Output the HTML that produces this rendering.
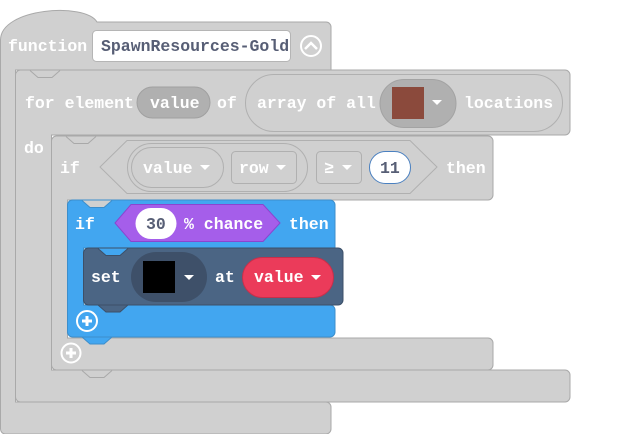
<!DOCTYPE html>
<html><head><meta charset="utf-8"><style>
html,body{margin:0;padding:0;background:#fff;}
svg{display:block}
text{font-family:"Liberation Mono",monospace;font-weight:bold;font-size:16.5px;fill:#fff}
.d{fill:#575e75}
</style></head><body>
<svg width="622" height="434" viewBox="0 0 622 434" xmlns="http://www.w3.org/2000/svg">
<!-- function block -->
<path d="M0.5,40 C0.5,8 85,2 97,22 H326 a5,5 0 0 1 5,5 V70 H15.5 V402 H326 a5,5 0 0 1 5,5 V429 a5,5 0 0 1 -5,5 H5 a5,5 0 0 1 -4.5,-5 Z" fill="#d0d0d0" stroke="#a9a9a9"/>
<text x="8" y="51">function</text>
<rect x="92.5" y="30.5" width="198" height="31" rx="4" fill="#fff" stroke="#b5b5b5"/>
<text x="101" y="51" class="d">SpawnResources-Gold</text>
<circle cx="311" cy="46" r="10" fill="none" stroke="#fff" stroke-width="2"/>
<path d="M305,49 L311,43 L317,49" fill="none" stroke="#fff" stroke-width="2.5"/>
<!-- for block -->
<path d="M15.5,75 a5,5 0 0 1 5,-5 H565 a5,5 0 0 1 5,5 V130 a5,5 0 0 1 -5,5 H51.5 V370 H565 a5,5 0 0 1 5,5 V397 a5,5 0 0 1 -5,5 H20.5 a5,5 0 0 1 -5,-5 Z" fill="#d0d0d0" stroke="#a9a9a9"/>
<path d="M30,70.5 l8,7 h14 l8,-7" fill="none" stroke="#a9a9a9"/>
<text x="25" y="108">for element</text>
<rect x="137" y="87" width="73" height="31" rx="15.5" fill="#b0b0b0" stroke="#a0a0a0"/>
<text x="150" y="108">value</text>
<text x="217" y="108">of</text>
<rect x="245.5" y="74.5" width="317" height="57" rx="28.5" fill="#d0d0d0" stroke="#b0b0b0"/>
<text x="257" y="108">array of all</text>
<rect x="380" y="79.5" width="76" height="48" rx="24" fill="#b0b0b0" stroke="#a3a3a3"/>
<rect x="392" y="87" width="32" height="32" fill="#8b4a3c"/>
<path d="M432,100 h10 l-5,5 Z" fill="#fff"/>
<text x="464" y="108">locations</text>
<text x="24" y="153">do</text>
<!-- gray if -->
<path d="M51.5,141 a5,5 0 0 1 5,-5 H488 a5,5 0 0 1 5,5 V195 a5,5 0 0 1 -5,5 H67.5 V338 H488 a5,5 0 0 1 5,5 V365 a5,5 0 0 1 -5,5 H56.5 a5,5 0 0 1 -5,-5 Z" fill="#d0d0d0" stroke="#a9a9a9"/>
<path d="M66,136.5 l8,7 h14 l8,-7" fill="none" stroke="#a9a9a9"/>
<path d="M82,370.5 l8,7 h14 l8,-7" fill="#d0d0d0" stroke="#a9a9a9"/>
<text x="60" y="173">if</text>
<path d="M100,167 L127,140.5 H410 L437,167 L410,193.5 H127 Z" fill="#d0d0d0" stroke="#b0b0b0"/>
<rect x="127.5" y="143.5" width="180" height="48" rx="24" fill="#d0d0d0" stroke="#b0b0b0"/>
<rect x="131.5" y="147.5" width="92" height="40" rx="20" fill="#d0d0d0" stroke="#b0b0b0"/>
<text x="143" y="173">value</text>
<path d="M200,165 h10 l-5,5 Z" fill="#fff"/>
<rect x="231.5" y="151.5" width="65" height="32" rx="4" fill="#d0d0d0" stroke="#b0b0b0"/>
<text x="239" y="173">row</text>
<path d="M276,165 h10 l-5,5 Z" fill="#fff"/>
<rect x="316.5" y="151.5" width="45" height="32" rx="4" fill="#d0d0d0" stroke="#b0b0b0"/>
<text x="324" y="173">≥</text>
<path d="M342,165 h10 l-5,5 Z" fill="#fff"/>
<rect x="369.5" y="151.5" width="41" height="32" rx="16" fill="#fff" stroke="#4a80c0"/>
<text x="380" y="173" class="d">11</text>
<text x="446" y="173">then</text>
<circle cx="71" cy="353" r="9.5" fill="none" stroke="#fff" stroke-width="2"/>
<path d="M66,353 h10 M71,348 v10" stroke="#fff" stroke-width="3"/>
<!-- blue if -->
<path d="M67.5,205 a5,5 0 0 1 5,-5 H330 a5,5 0 0 1 5,5 V248 H83.5 V305 H330 a5,5 0 0 1 5,5 V332 a5,5 0 0 1 -5,5 H72.5 a5,5 0 0 1 -5,-5 Z" fill="#42a6f0" stroke="#3c8ecb"/>
<path d="M82,200.5 l8,7 h14 l8,-7" fill="#d0d0d0" stroke="#3c8ecb"/>
<path d="M82,337 l8,7 h14 l8,-7 Z" fill="#42a6f0" stroke="#3c8ecb"/>
<text x="75" y="229">if</text>
<path d="M115,223 L131,204.5 H263 L280,223 L263,241.5 H131 Z" fill="#a55eea" stroke="#8a45cf"/>
<rect x="135.5" y="208" width="41" height="31" rx="15.5" fill="#fff"/>
<text x="146" y="229" class="d">30</text>
<text x="184" y="229">% chance</text>
<text x="289" y="229">then</text>
<circle cx="87" cy="321" r="10" fill="none" stroke="#fff" stroke-width="2"/>
<path d="M82,321 h10 M87,316 v10" stroke="#fff" stroke-width="3"/>
<!-- set -->
<path d="M83.5,253 a5,5 0 0 1 5,-5 H338 a5,5 0 0 1 5,5 V300 a5,5 0 0 1 -5,5 H88.5 a5,5 0 0 1 -5,-5 Z" fill="#4b6584" stroke="#3c5069"/>
<path d="M98,248.5 l8,7 h14 l8,-7" fill="#42a6f0" stroke="#3c5069"/>
<path d="M98,305 l8,7 h14 l8,-7 Z" fill="#4b6584" stroke="#3c5069"/>
<text x="91" y="282">set</text>
<rect x="131" y="252" width="76" height="50" rx="25" fill="#3e5069"/>
<rect x="143" y="261" width="32" height="32" fill="#000"/>
<path d="M184,275 h10 l-5,5 Z" fill="#fff"/>
<text x="215" y="282">at</text>
<rect x="242.5" y="257.5" width="91" height="40" rx="20" fill="#eb3b5a" stroke="#c72f4a"/>
<text x="254" y="282">value</text>
<path d="M311,275 h10 l-5,5 Z" fill="#fff"/>
</svg>
</body></html>
